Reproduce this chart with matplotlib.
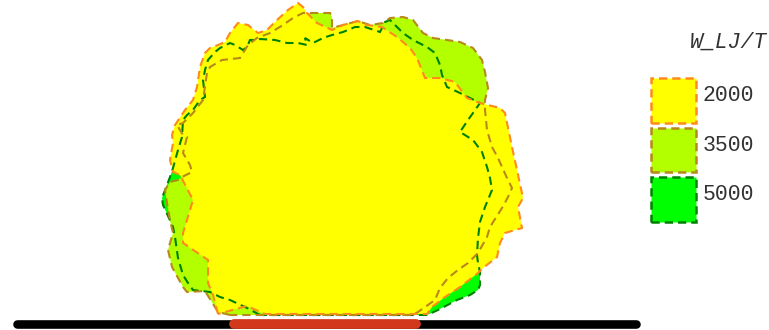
import matplotlib
matplotlib.use("Agg")
import matplotlib.pyplot as plt
from matplotlib.patches import Patch, Rectangle
from matplotlib.legend_handler import HandlerPatch

# Cluster outlines for three interaction strengths (x, depth below top; wall at depth 324)
levels = ["2000", "3500", "5000"]

x_2000 = [218, 213, 208, 208, 183, 183, 193, 180, 173, 170, 173, 172, 175, 185, 193, 197, 200, 205, 210, 218,
          225, 230, 238, 248, 258, 267, 277, 288, 298, 303, 307, 317, 332, 343, 358, 367, 382, 397, 410, 417,
          425, 440, 455, 467, 480, 500, 505, 512, 517, 523, 518, 522, 505, 500, 497, 483, 478, 460, 445, 432,
          427, 265, 247]
y_2000 = [314, 295, 283, 260, 243, 233, 200, 175, 172, 160, 143, 135, 125, 110, 100, 87, 67, 53, 48, 45,
          42, 33, 23, 25, 33, 30, 20, 10, 3, 7, 13, 23, 30, 25, 21, 25, 27, 37, 48, 58,
          78, 78, 82, 98, 103, 108, 113, 147, 170, 198, 207, 228, 233, 243, 257, 268, 273, 287, 297, 307,
          314, 314, 306]

x_3500 = [230, 218, 205, 187, 183, 172, 168, 170, 173, 170, 167, 165, 170, 178, 182, 192, 190, 183, 187, 183,
          177, 183, 193, 203, 207, 210, 222, 240, 248, 257, 270, 283, 293, 303, 317, 330, 332, 332, 343, 358,
          370, 383, 390, 403, 413, 423, 433, 447, 460, 473, 482, 485, 488, 485, 485, 487, 492, 498, 507, 512,
          508, 502, 490, 487, 478, 468, 458, 448, 440, 435, 418, 413]
y_3500 = [315, 312, 291, 292, 287, 267, 250, 243, 233, 220, 203, 190, 182, 180, 177, 172, 165, 153, 137, 135,
          125, 123, 113, 100, 73, 67, 60, 58, 45, 38, 33, 25, 18, 13, 13, 13, 17, 28, 25, 21,
          25, 23, 18, 17, 20, 33, 38, 40, 42, 48, 60, 72, 88, 100, 110, 130, 147, 158, 178, 188,
          197, 208, 227, 237, 253, 263, 270, 278, 288, 300, 312, 315]

x_5000 = [260, 247, 230, 220, 210, 193, 188, 183, 178, 175, 173, 163, 162, 170, 173, 178, 182, 183, 187, 193,
          200, 205, 203, 205, 208, 215, 220, 230, 235, 243, 247, 250, 257, 260, 275, 287, 298, 307, 305, 313,
          323, 332, 343, 355, 365, 380, 385, 390, 403, 413, 427, 435, 440, 442, 447, 460, 480, 473, 468, 460,
          473, 482, 487, 490, 492, 485, 480, 478, 477, 478, 480, 480, 478, 470, 457, 438, 427]
y_5000 = [315, 308, 300, 297, 292, 290, 283, 275, 258, 237, 227, 205, 198, 177, 168, 150, 137, 120, 115, 110,
          100, 97, 80, 70, 60, 52, 48, 43, 45, 50, 47, 40, 40, 39, 40, 43, 43, 45, 38, 43,
          38, 35, 32, 27, 27, 32, 22, 20, 33, 40, 47, 53, 65, 75, 87, 93, 103, 113, 120, 132,
          140, 152, 167, 178, 190, 207, 222, 238, 255, 263, 272, 285, 290, 295, 300, 310, 315]

# Substrate wall and the heated strip on it
wall_x = [17, 636]
heater_x = [234, 416]
wall_level = 324

fill_colors = {"2000": "#ffff00", "3500": "#b3ff00", "5000": "#00ff00"}
edge_colors = {"2000": "#ff8a1c", "3500": "#b8881a", "5000": "#008200"}
outlines = {"2000": (x_2000, y_2000), "3500": (x_3500, y_3500), "5000": (x_5000, y_5000)}

fig = plt.figure(figsize=(7.69, 3.30), dpi=100)
ax = fig.add_axes([0, 0, 1, 1])
ax.set_xlim(0, 769)
ax.set_ylim(330, 0)
ax.axis("off")

draw_order = ["5000", "3500", "2000"]
for lv in draw_order:
    xs, ys = outlines[lv]
    ax.fill(xs, ys, facecolor=fill_colors[lv], edgecolor="none", zorder=1)
for lv in draw_order:
    xs, ys = outlines[lv]
    ax.fill(xs, ys, fill=False, edgecolor=edge_colors[lv], linewidth=1.5,
            linestyle=(0, (4, 2.4)), zorder=2)

ax.plot(wall_x, [wall_level] * 2, color="black", linewidth=6.2,
        solid_capstyle="round", zorder=3)
ax.plot(heater_x, [wall_level] * 2, color="#d1381c", linewidth=7,
        solid_capstyle="round", zorder=4)


def swatch(legend, orig_handle, xdescent, ydescent, width, height, fontsize):
    # square swatch, nudged down so the label sits near its middle
    return Rectangle((-xdescent, -ydescent - 4.0), width, height)


mono = "Liberation Mono"
handles = [Patch(facecolor=fill_colors[lv], edgecolor=edge_colors[lv],
                 linestyle=(0, (3.3, 2)), linewidth=1.8, label=lv) for lv in levels]
leg = ax.legend(handles=handles, loc="upper left",
                bbox_to_anchor=(651 / 769, 1 - 72.6 / 330), bbox_transform=fig.transFigure,
                frameon=False, borderpad=0, borderaxespad=0,
                handlelength=2.08, handleheight=2.80, labelspacing=0.24,
                handletextpad=0.3, prop={"family": mono, "size": 15.5},
                handler_map={Patch: HandlerPatch(patch_func=swatch)})
for t in leg.get_texts():
    t.set_color("#333333")

fig.text(690 / 769, 1 - 42 / 330, "W_LJ/T", family=mono, style="italic",
         size=15.5, color="#333333", ha="left", va="center")

fig.savefig("out.png", dpi=100)
